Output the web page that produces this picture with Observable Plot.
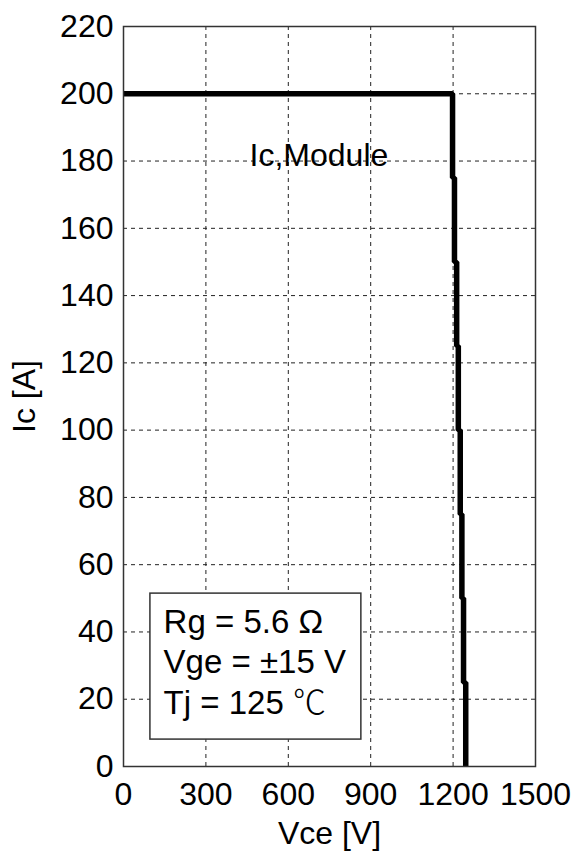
<!DOCTYPE html>
<html>
<head>
<meta charset="utf-8">
<script src="https://cdn.jsdelivr.net/npm/d3@7"></script>
<script src="https://cdn.jsdelivr.net/npm/@observablehq/plot@0.6"></script>
<style>
  html, body { margin: 0; padding: 0; background: #fff; }
</style>
</head>
<body>
<div id="chart"></div>
<script>
// Reverse-bias safe operating area: Ic vs Vce (stepped boundary)
const vce = [0, 1198, 1198, 1205, 1205, 1213, 1213, 1219, 1219, 1226, 1226, 1232, 1232, 1238, 1238, 1246, 1246];
const ic  = [200, 200, 175, 175, 150, 150, 125, 125, 100, 100, 75, 75, 50, 50, 25, 25, 0];

const xTicks = [0, 300, 600, 900, 1200, 1500];
const yTicks = [0, 20, 40, 60, 80, 100, 120, 140, 160, 180, 200, 220];
const xGrid = [300, 600, 900, 1200];
const yGrid = [20, 40, 60, 80, 100, 120, 140, 160, 180, 200];

// annotation: curve label
const curveLabel = [{vce: 459, ic: 181.6, text: "Ic,Module"}];
// annotation: conditions box (extent in data units) and its lines
const boxVce = [98, 866];
const boxIc = [8, 51.4];
const condLines = ["Rg = 5.6 Ω", "Vge = ±15 V", "Tj = 125 ℃"];
const condIc = [42.8, 30.9, 18.7];
const condVce = 146;

const pts = vce.map((v, i) => ({vce: v, ic: ic[i]}));
const box = [{x1: boxVce[0], x2: boxVce[1], y1: boxIc[0], y2: boxIc[1]}];
const cond = condLines.map((t, i) => ({vce: condVce, ic: condIc[i], text: t}));

const font = "'Liberation Sans', Arial, Helvetica, sans-serif";

const chart = Plot.plot({
  width: 576,
  height: 856,
  marginLeft: 123,
  marginRight: 41,
  marginTop: 26,
  marginBottom: 90,
  style: {fontSize: "32px", fontFamily: font, color: "#000", background: "#fff"},
  x: {domain: [0, 1500], ticks: xTicks, tickFormat: d => String(d), tickSize: 0, tickPadding: 16, label: null},
  y: {domain: [0, 220], ticks: yTicks, tickFormat: d => String(d), tickSize: 0, tickPadding: 10, label: null},
  marks: [
    Plot.ruleX(xGrid, {stroke: "#222", strokeWidth: 1, strokeDasharray: "4,4"}),
    Plot.ruleY(yGrid, {stroke: "#222", strokeWidth: 1, strokeDasharray: "4,4"}),
    Plot.line(pts, {x: "vce", y: "ic", stroke: "#000", strokeWidth: 5.5, strokeLinejoin: "miter", strokeLinecap: "butt"}),
    Plot.rect(box, {x1: "x1", x2: "x2", y1: "y1", y2: "y2", fill: "#fff", stroke: "#333", strokeWidth: 1.5}),
    Plot.text(cond, {x: "vce", y: "ic", text: "text", textAnchor: "start", lineAnchor: "middle", fontSize: 33, fill: "#000"}),
    Plot.text(curveLabel, {x: "vce", y: "ic", text: "text", textAnchor: "start", lineAnchor: "middle", fontSize: 32, fill: "#000"}),
    Plot.frame({stroke: "#333", strokeWidth: 1.5}),
    Plot.text(["Vce [V]"], {frameAnchor: "bottom", dy: 77, lineAnchor: "bottom", textAnchor: "middle", text: d => d, fill: "#000"}),
    Plot.text(["Ic [A]"], {frameAnchor: "left", dx: -89, rotate: -90, lineAnchor: "bottom", textAnchor: "middle", text: d => d, fill: "#000"})
  ]
});
document.getElementById("chart").appendChild(chart);

// render the degree-Celsius sign with a CJK font, as in the reference
d3.select(chart).selectAll("text").each(function () {
  const s = this.textContent;
  if (s.includes("℃") && this.children.length === 0) {
    const parts = s.split("℃");
    const sel = d3.select(this);
    sel.text(parts[0]);
    sel.append("tspan").style("font-family", "'Noto Sans CJK SC', sans-serif").style("font-weight", "300").text("℃");
    if (parts[1]) sel.append("tspan").text(parts[1]);
  }
});
</script>
</body>
</html>
